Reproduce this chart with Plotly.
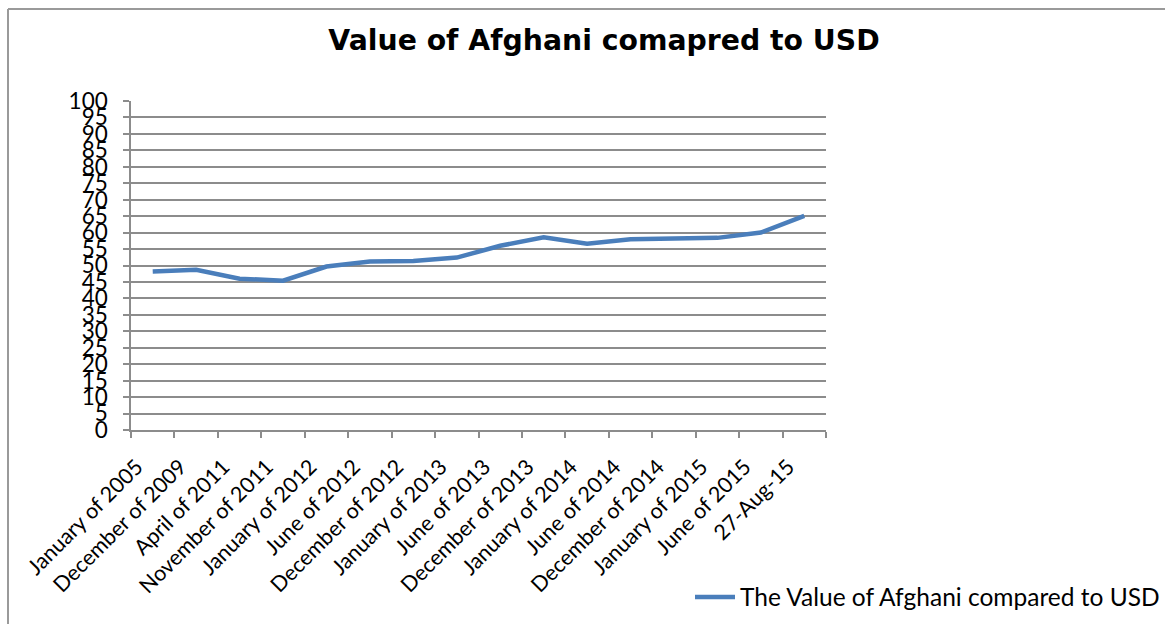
import plotly.graph_objects as go

categories = ["January of 2005", "December of 2009", "April of 2011", "November of 2011",
              "January of 2012", "June of 2012", "December of 2012", "January of 2013",
              "June of 2013", "December of 2013", "January of 2014", "June of 2014",
              "December of 2014", "January of 2015", "June of 2015", "27-Aug-15"]
values = [48.2, 48.7, 46.0, 45.4, 49.7, 51.2, 51.4, 52.4,
          56.0, 58.6, 56.6, 58.0, 58.2, 58.4, 60.0, 65.1]
series_name = "The Value of Afghani compared to USD"
title_text = "Value of Afghani comapred to USD"

W, H = 1165, 624
L, R, T, B = 131, 826, 101, 430

def px(x):
    return (x - L) / (R - L)

def py(y):
    return (B - y) / (B - T)

fig = go.Figure()
fig.add_trace(go.Scatter(
    x=categories, y=values, mode="lines", name=series_name,
    line=dict(color="#4A7EBB", width=4.5), showlegend=True,
))

grid = "#8C8C8C"
fig.update_layout(
    width=W, height=H,
    margin=dict(l=L, r=W - R, t=T, b=H - B, pad=0, autoexpand=False),
    paper_bgcolor="white", plot_bgcolor="white",
    font=dict(family="Lato, Carlito, sans-serif", color="black"),
    title=dict(text="<b>" + title_text + "</b>", x=px(604), xref="paper", xanchor="center",
               y=1 - 40 / H, yanchor="middle",
               font=dict(family="DejaVu Sans, Verdana, sans-serif", size=28.3, color="black")),
    xaxis=dict(type="category", range=[-0.5, len(categories) - 0.5], tickson="boundaries",
               ticks="outside", ticklen=6, tickcolor=grid, tickwidth=1.5,
               showline=True, linecolor=grid, linewidth=1.5, showgrid=False,
               tickangle=-45, tickfont=dict(size=21.5, family="Lato, sans-serif"),
               ticklabelshift=-16, ticklabelstandoff=14,
               zeroline=False, automargin=False),
    yaxis=dict(range=[0, 100], dtick=5, tick0=0, ticks="outside", ticklen=6, tickcolor=grid,
               tickwidth=1.5, showline=True, linecolor=grid, linewidth=1.5,
               showgrid=True, gridcolor=grid, gridwidth=1.5, zeroline=False,
               tickfont=dict(size=22.5, family="Lato, sans-serif"), ticklabelstandoff=11,
               automargin=False),
    legend=dict(x=px(690), xanchor="left", y=py(597), yanchor="middle",
                font=dict(size=24.5, family="Lato, sans-serif"), bgcolor="rgba(0,0,0,0)",
                itemwidth=40, tracegroupgap=0),
    shapes=[
        dict(type="line", xref="paper", yref="paper", x0=px(8), x1=px(1170), y0=py(9), y1=py(9),
             line=dict(color="#9A9A9A", width=2)),
        dict(type="line", xref="paper", yref="paper", x0=px(8), x1=px(8), y0=py(9), y1=py(630),
             line=dict(color="#9A9A9A", width=2)),
    ],
)

fig.write_html("out.html")
